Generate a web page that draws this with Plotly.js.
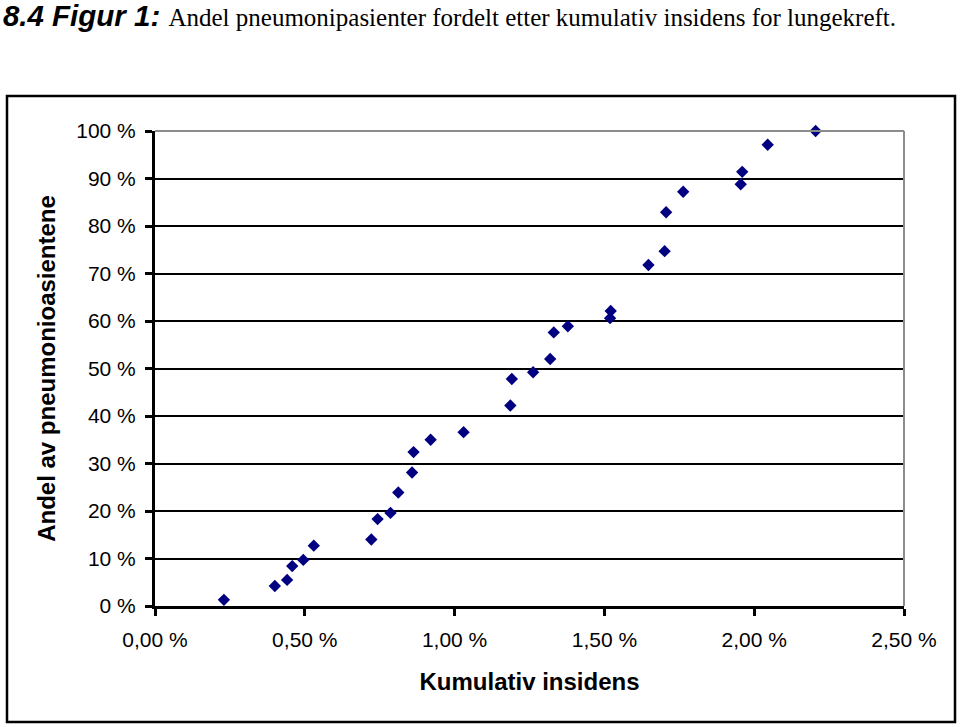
<!DOCTYPE html>
<html>
<head>
<meta charset="utf-8">
<script src="https://cdn.plot.ly/plotly-3.0.1.min.js"></script>
<style>
  html, body { margin: 0; padding: 0; background: #fff; }
  #chart { width: 960px; height: 727px; }
</style>
</head>
<body>
<div id="chart"></div>
<script>
// Kumulativ insidens (%) per punkt
const kumulativInsidens = [
  0.230, 0.400, 0.441, 0.458, 0.495, 0.530, 0.722, 0.743, 0.786, 0.812,
  0.858, 0.863, 0.920, 1.030, 1.186, 1.191, 1.262, 1.319, 1.331, 1.378,
  1.519, 1.521, 1.647, 1.701, 1.706, 1.763, 1.955, 1.960, 2.045, 2.205
];
// Andel av pneumonipasientene (%)
const andelPasienter = [
  1.3, 4.2, 5.5, 8.4, 9.7, 12.7, 14.0, 18.3, 19.6, 23.9,
  28.1, 32.4, 35.0, 36.6, 42.2, 47.8, 49.2, 52.0, 57.6, 58.9,
  60.6, 62.1, 71.8, 74.7, 82.9, 87.2, 88.8, 91.4, 97.1, 100.0
];
const xTickVals = [0, 0.5, 1.0, 1.5, 2.0, 2.5];
const xTickLabels = ['0,00 %', '0,50 %', '1,00 %', '1,50 %', '2,00 %', '2,50 %'];
const yTickVals = [0, 10, 20, 30, 40, 50, 60, 70, 80, 90, 100];
const yTickLabels = ['0 %', '10 %', '20 %', '30 %', '40 %', '50 %', '60 %', '70 %', '80 %', '90 %', '100 %'];

const titleText = '<b><i>8.4 Figur 1:</i></b> <span style="font-family:\'Liberation Serif\', \'Times New Roman\', serif;font-size:25px;font-weight:normal;font-style:normal">Andel pneumonipasienter fordelt etter kumulativ insidens for lungekreft.</span>';

const trace = {
  x: kumulativInsidens,
  y: andelPasienter,
  type: 'scatter',
  mode: 'markers',
  marker: { symbol: 'diamond', size: 9.5, color: '#000080' },
  cliponaxis: false,
  hoverinfo: 'x+y'
};

const sansFont = "'Liberation Sans', Arial, sans-serif";

const layout = {
  width: 960,
  height: 727,
  margin: { l: 155, r: 56, t: 131, b: 121, pad: 0 },
  paper_bgcolor: '#ffffff',
  plot_bgcolor: '#ffffff',
  showlegend: false,
  title: {
    text: titleText,
    font: { family: sansFont, size: 29.5, color: '#000' },
    x: 0.003, xref: 'container', xanchor: 'left',
    y: 0.979, yref: 'container', yanchor: 'middle'
  },
  xaxis: {
    range: [0, 2.5],
    tickvals: xTickVals,
    ticktext: xTickLabels,
    ticks: 'outside', ticklen: 7, tickwidth: 3, tickcolor: '#000',
    showline: true, linecolor: '#000', linewidth: 3,
    showgrid: false, zeroline: false,
    ticklabelstandoff: 6,
    tickfont: { family: sansFont, size: 21, color: '#000' },
    title: { text: '<b>Kumulativ insidens</b>', font: { family: sansFont, size: 24, color: '#000' }, standoff: 23 },
    automargin: false, fixedrange: true
  },
  yaxis: {
    range: [0, 100],
    tickvals: yTickVals,
    ticktext: yTickLabels,
    ticks: 'outside', ticklen: 7, tickwidth: 3, tickcolor: '#000',
    showline: true, linecolor: '#000', linewidth: 3,
    showgrid: true, gridcolor: '#000', gridwidth: 2,
    zeroline: false,
    ticklabelstandoff: 5,
    tickfont: { family: sansFont, size: 21, color: '#000' },
    title: { text: '<b>Andel av pneumonioasientene</b>', font: { family: sansFont, size: 24, color: '#000' }, standoff: 14 },
    automargin: false, fixedrange: true
  },
  shapes: [
    // plot area border (gray, top & right)
    { type: 'line', xref: 'paper', yref: 'paper', x0: 0, x1: 1, y0: 1, y1: 1, line: { color: '#8c8c8c', width: 2 }, layer: 'above' },
    { type: 'line', xref: 'paper', yref: 'paper', x0: 1, x1: 1, y0: 0, y1: 1, line: { color: '#8c8c8c', width: 2 }, layer: 'above' },
    // outer chart frame
    { type: 'rect', xref: 'paper', yref: 'paper', x0: -0.1976, x1: 1.0681, y0: -0.2442, y1: 1.0737, line: { color: '#000', width: 2.5 }, layer: 'below' }
  ]
};

Plotly.newPlot('chart', [trace], layout, { displayModeBar: false, staticPlot: true });
</script>
</body>
</html>
